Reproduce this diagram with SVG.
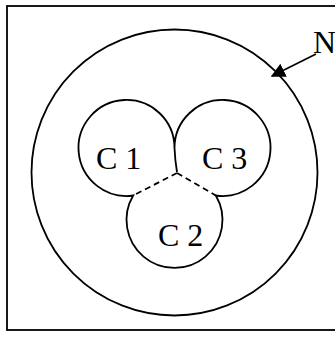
<svg xmlns="http://www.w3.org/2000/svg" width="335" height="341" viewBox="0 0 335 341">
<defs>
<style>
.s{fill:none;stroke:#000;stroke-width:1.8}
.d{fill:none;stroke:#000;stroke-width:1.8;stroke-dasharray:6,4}
.t{font-family:"Liberation Serif","Times New Roman",serif;font-size:32px;fill:#000}
</style>
<marker id="ah" viewBox="0 0 10 10" refX="9" refY="5" markerWidth="8" markerHeight="8" markerUnits="strokeWidth" orient="auto">
<path d="M0,0 L10,5 L0,10 z" fill="#000"/>
</marker>
</defs>
<rect width="335" height="341" fill="#fff"/>
<g id="frame"><rect class="s" x="7" y="6" width="340" height="324"/></g>
<g id="N"><circle class="s" cx="174.5" cy="172.5" r="143"/>
<text class="t" x="313" y="53">N</text></g>
<g id="C123">
<path class="s" d="M174.5,148 A48,48 0 1,0 133.2,195.5 A48,48 0 1,0 215.8,195.5 A48,48 0 1,0 174.5,148 Q175,160 177,172"/>
<text class="t" x="96" y="169">C 1</text>
<text class="t" x="202" y="169">C 3</text>
<text class="t" x="158" y="246">C 2</text>
</g>
<g id="connectors">
<path class="d" d="M177,173 L133.2,195.5"/>
<path class="d" d="M177,173 L215.8,195.5"/>
<path class="s" d="M316,54 L272,76" marker-end="url(#ah)"/>
</g>
</svg>
